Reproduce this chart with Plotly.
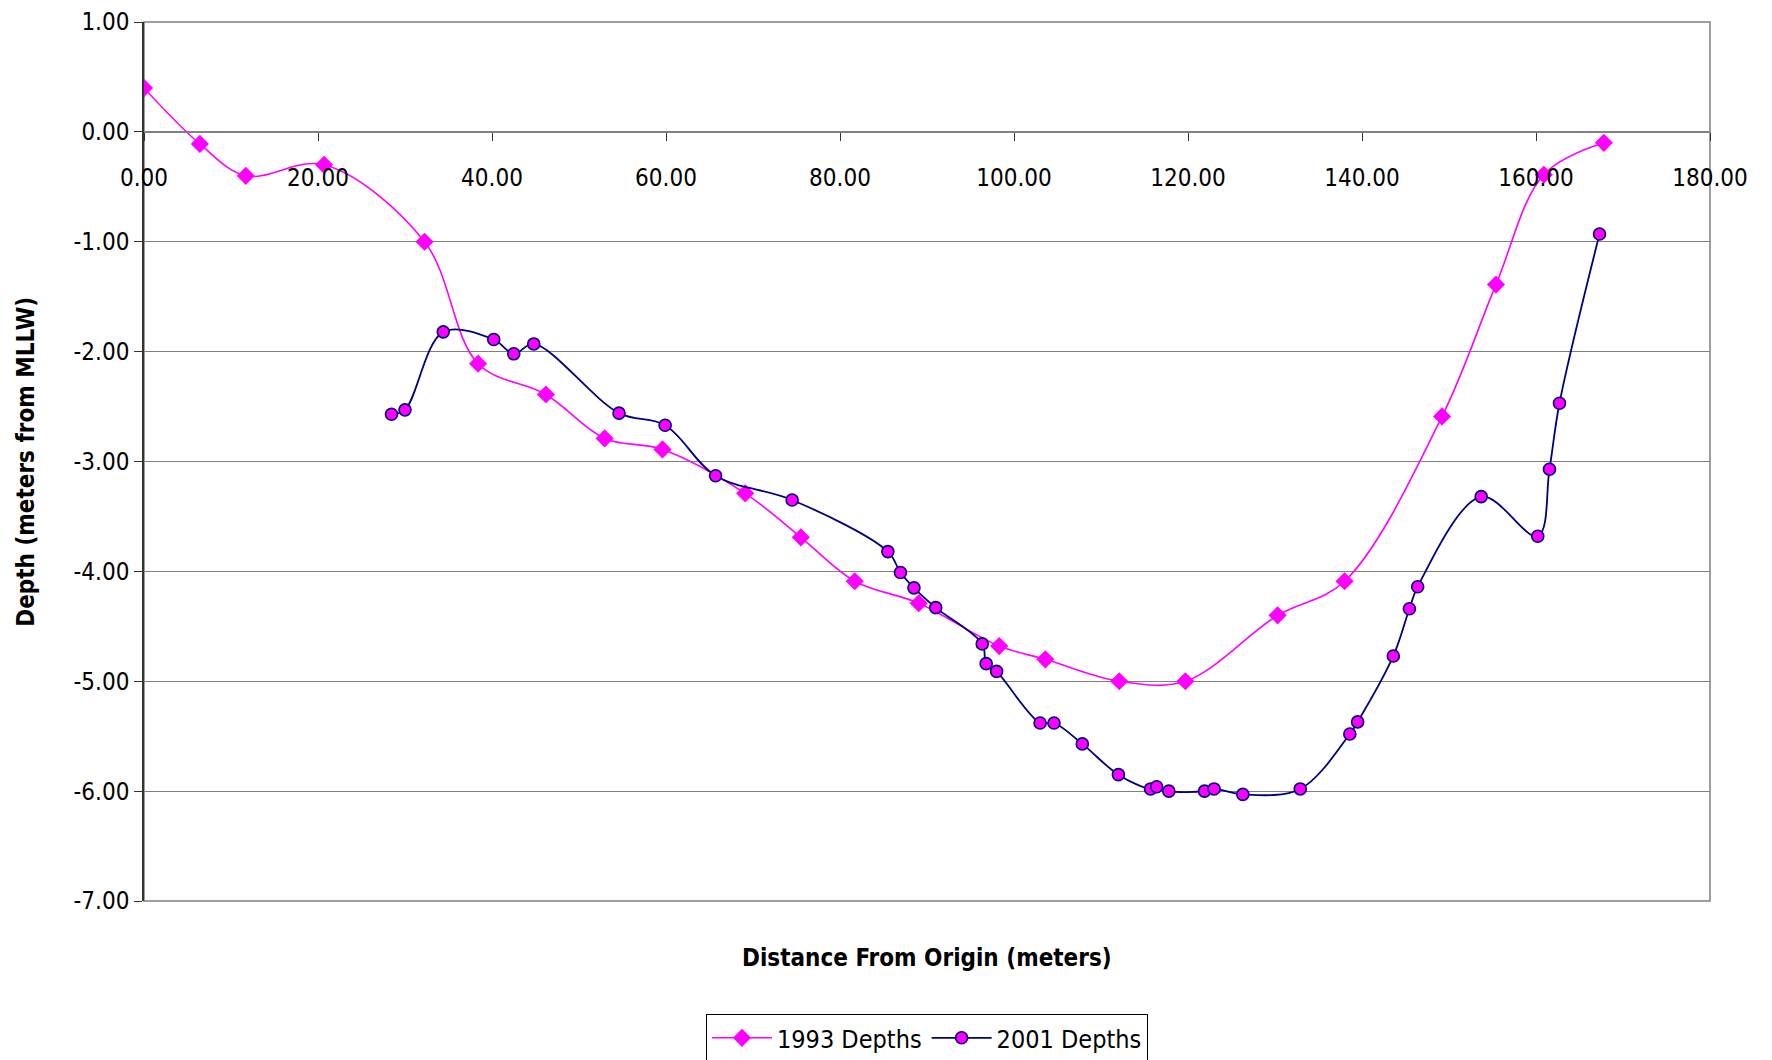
import plotly.graph_objects as go

# ---- data ----
x_1993 = [0.0, 6.42, 11.7, 20.7, 32.25, 38.4, 46.2, 52.95, 59.6, 69.1, 75.5, 81.7,
          89.05, 98.3, 103.6, 112.1, 119.7, 130.3, 138.0, 149.2, 155.4, 160.9, 167.8]
y_1993 = [0.40, -0.11, -0.40, -0.30, -1.00, -2.11, -2.39, -2.79, -2.89, -3.29, -3.69, -4.09,
          -4.29, -4.68, -4.80, -5.00, -5.00, -4.40, -4.09, -2.59, -1.39, -0.39, -0.10]

x_2001 = [28.45, 30.0, 34.4, 40.2, 42.5, 44.8, 54.6, 59.9, 65.7, 74.5, 85.5, 86.95,
          88.5, 91.0, 96.35, 96.8, 98.0, 103.0, 104.6, 107.85, 112.0, 115.7, 116.4,
          117.8, 121.9, 123.0, 126.3, 132.9, 138.6, 139.5, 143.6, 145.45, 146.4,
          153.7, 160.2, 161.55, 162.7, 167.3]
y_2001 = [-2.57, -2.53, -1.82, -1.89, -2.02, -1.93, -2.56, -2.67, -3.13, -3.35, -3.82, -4.01,
          -4.15, -4.33, -4.66, -4.84, -4.91, -5.38, -5.38, -5.57, -5.85, -5.98, -5.96,
          -6.00, -6.00, -5.98, -6.03, -5.98, -5.48, -5.37, -4.77, -4.34, -4.14,
          -3.32, -3.68, -3.07, -2.47, -0.93]

x_ticks = [0, 20, 40, 60, 80, 100, 120, 140, 160, 180]
x_tick_labels = ["0.00", "20.00", "40.00", "60.00", "80.00", "100.00",
                 "120.00", "140.00", "160.00", "180.00"]
y_ticks = [1, 0, -1, -2, -3, -4, -5, -6, -7]
y_tick_labels = ["1.00", "0.00", "-1.00", "-2.00", "-3.00", "-4.00",
                 "-5.00", "-6.00", "-7.00"]

series_names = ["1993 Depths", "2001 Depths"]
x_title = "Distance From Origin (meters)"
y_title = "Depth (meters from MLLW)"

FONT = "DejaVu Sans Condensed, DejaVu Sans, sans-serif"
MAGENTA = "#FF00FF"
NAVY = "#000080"
GRID = "#808080"

fig = go.Figure()
fig.add_trace(go.Scatter(
    x=x_1993, y=y_1993, name=series_names[0], mode="lines+markers",
    line=dict(color=MAGENTA, width=1.6, shape="spline", smoothing=1.0),
    marker=dict(symbol="diamond", size=14, color=MAGENTA, line=dict(width=0)),
))
fig.add_trace(go.Scatter(
    x=x_2001, y=y_2001, name=series_names[1], mode="lines+markers",
    line=dict(color=NAVY, width=1.8, shape="spline", smoothing=1.0),
    marker=dict(symbol="circle", size=12, color=MAGENTA, line=dict(color=NAVY, width=1.6)),
))

fig.update_layout(
    template="none",
    width=1772, height=1060,
    margin=dict(l=136, r=70, t=14, b=167, pad=0, autoexpand=False),
    paper_bgcolor="white", plot_bgcolor="white",
    font=dict(family=FONT, size=24, color="black"),
    showlegend=True,
    legend=dict(
        orientation="h", x=0.5, xanchor="center", y=-0.1286, yanchor="top",
        bordercolor="black", borderwidth=1, bgcolor="white",
        font=dict(family=FONT, size=25, color="black"),
        itemwidth=60, tracegroupgap=0,
    ),
    xaxis=dict(
        range=[0, 180], anchor="free", position=0.875, automargin=False,
        tickmode="array", tickvals=x_ticks, ticktext=x_tick_labels,
        showgrid=False, zeroline=False,
        showline=True, linecolor=GRID, linewidth=1,
        ticks="outside", ticklen=8, tickwidth=1, tickcolor="#333333",
        ticklabelstandoff=16, ticklabeloverflow="allow",
        tickfont=dict(family=FONT, size=24, color="black"),
    ),
    yaxis=dict(
        range=[-7, 1], automargin=False,
        tickmode="array", tickvals=y_ticks, ticktext=y_tick_labels,
        showgrid=True, gridcolor=GRID, gridwidth=1,
        zeroline=True, zerolinecolor=GRID, zerolinewidth=1,
        showline=True, linecolor="#333333", linewidth=1.5,
        ticks="outside", ticklen=8, tickwidth=1, tickcolor="#333333",
        ticklabeloverflow="allow",
        tickfont=dict(family=FONT, size=24, color="black"),
    ),
    shapes=[dict(type="rect", xref="paper", yref="paper", x0=0, x1=1, y0=0, y1=1,
                 line=dict(color=GRID, width=1.5), layer="below")],
    annotations=[
        dict(text="<b>" + x_title + "</b>", xref="paper", yref="paper",
             x=0.5, y=-0.065, xanchor="center", yanchor="middle", showarrow=False,
             font=dict(family=FONT, size=24, color="black")),
        dict(text="<b>" + y_title + "</b>", xref="paper", yref="paper",
             x=-0.0758, y=0.5, xanchor="center", yanchor="middle", showarrow=False,
             textangle=-90, font=dict(family=FONT, size=24, color="black")),
    ],
)

fig.write_html("out.html")
